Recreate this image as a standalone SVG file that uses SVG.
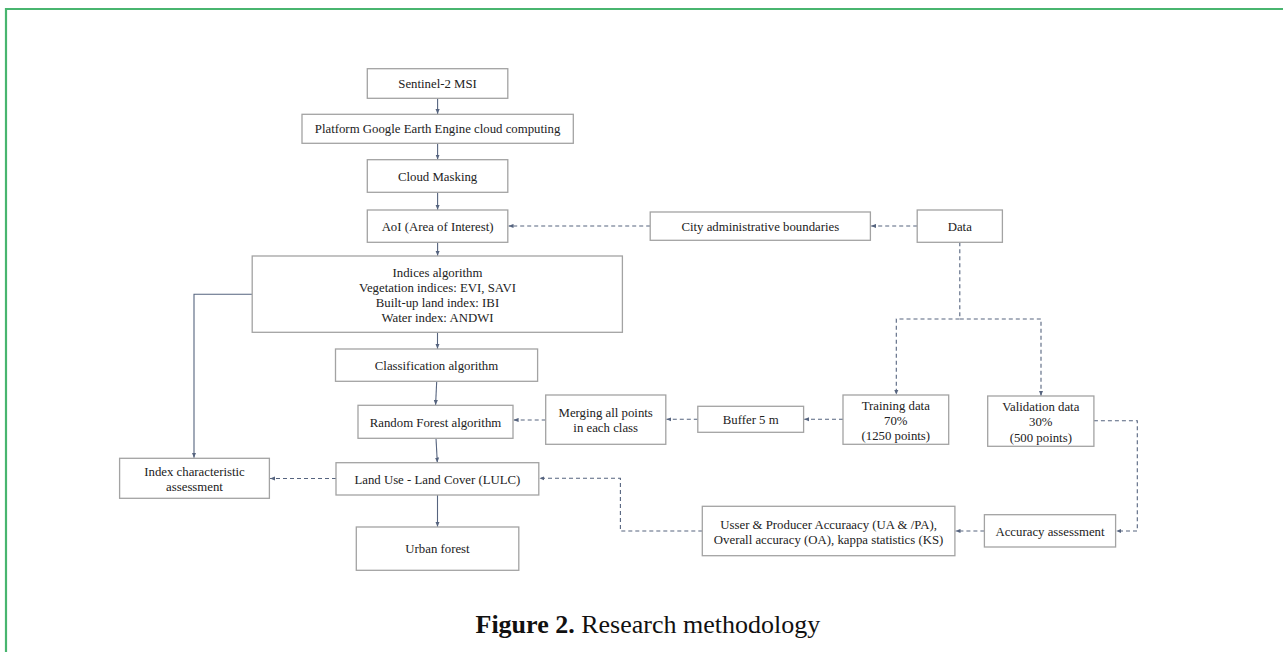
<svg xmlns="http://www.w3.org/2000/svg" width="1283" height="652" viewBox="0 0 1283 652">
<defs>
<style>
.box{fill:#fff;stroke:#a3a3a3;stroke-width:1.3}
.t{font-family:"Liberation Serif","Times New Roman",serif;font-size:12.8px;fill:#222;text-anchor:middle}
.c{fill:none;stroke:#56647f;stroke-width:1.1}
.d{stroke-dasharray:4 3}
.cap{font-family:"Liberation Serif","Times New Roman",serif;font-size:26px;fill:#111}
</style>
<marker id="ah" viewBox="0 0 6 6" refX="6" refY="3" markerWidth="5" markerHeight="5" orient="auto" markerUnits="userSpaceOnUse">
<path d="M0,0.5 L6,3 L0,5.5 Z" fill="#56647f"/>
</marker>
</defs>
<rect width="1283" height="652" fill="#fff"/>
<path d="M6,652 V9 H1283" fill="none" stroke="#48b56f" stroke-width="2.2"/>

<g id="connectors">
<path class="c" d="M437.6,98.3 V114" marker-end="url(#ah)"/>
<path class="c" d="M437.6,143.3 V159.5" marker-end="url(#ah)"/>
<path class="c" d="M437.6,192.3 V209.8" marker-end="url(#ah)"/>
<path class="c" d="M437.6,242.3 V255.8" marker-end="url(#ah)"/>
<path class="c" d="M437.5,332.3 V348.8" marker-end="url(#ah)"/>
<path class="c" d="M436.7,381.3 L435.6,405" marker-end="url(#ah)"/>
<path class="c" d="M436,438.3 L437.3,462.5" marker-end="url(#ah)"/>
<path class="c" d="M437.5,495 V526.8" marker-end="url(#ah)"/>
<path class="c" d="M252.2,294.3 H194 V457.8" marker-end="url(#ah)"/>
<path class="c d" d="M650.2,226 H508.5" marker-end="url(#ah)"/>
<path class="c d" d="M917.2,226 H871" marker-end="url(#ah)"/>
<path class="c d" d="M959.8,242.3 V319 H896.3 V394.8" marker-end="url(#ah)"/>
<path class="c d" d="M959.8,319 H1041 V395.8" marker-end="url(#ah)"/>
<path class="c d" d="M843,419.3 H804.2" marker-end="url(#ah)"/>
<path class="c d" d="M697.8,419.3 H666.4" marker-end="url(#ah)"/>
<path class="c d" d="M545.7,420 H513.6" marker-end="url(#ah)"/>
<path class="c d" d="M336,478.5 H270" marker-end="url(#ah)"/>
<path class="c d" d="M1093.9,420.7 H1137.3 V531 H1116.2" marker-end="url(#ah)"/>
<path class="c d" d="M984.4,531 H955.5" marker-end="url(#ah)"/>
<path class="c d" d="M702.3,531 H620.4 V478.3 H539.4" marker-end="url(#ah)"/>
</g>

<g id="sentinel"><rect class="box" x="367.3" y="68.7" width="140.5" height="29.6"/><text class="t" x="437.6" y="88">Sentinel-2 MSI</text></g>
<g id="gee"><rect class="box" x="302" y="114.3" width="271.3" height="29"/><text class="t" x="437.6" y="133.3">Platform Google Earth Engine cloud computing</text></g>
<g id="cloud"><rect class="box" x="367.3" y="159.7" width="140.5" height="32.6"/><text class="t" x="437.6" y="180.5">Cloud Masking</text></g>
<g id="aoi"><rect class="box" x="367.3" y="210" width="140.5" height="32.3"/><text class="t" x="437.6" y="230.7">AoI (Area of Interest)</text></g>
<g id="indices"><rect class="box" x="252.2" y="256" width="370.2" height="76.3"/>
<text class="t" x="437.5" y="276.5">Indices algorithm</text>
<text class="t" x="437.5" y="291.7">Vegetation indices: EVI, SAVI</text>
<text class="t" x="437.5" y="306.9">Built-up land index: IBI</text>
<text class="t" x="437.5" y="322.1">Water index: ANDWI</text></g>
<g id="classification"><rect class="box" x="335.5" y="349" width="202.1" height="32.3"/><text class="t" x="436.5" y="370">Classification algorithm</text></g>
<g id="rf"><rect class="box" x="358" y="405.3" width="155" height="33"/><text class="t" x="435.5" y="426.5">Random Forest algorithm</text></g>
<g id="lulc"><rect class="box" x="336" y="462.7" width="202.8" height="32.3"/><text class="t" x="437.4" y="483.5">Land Use - Land Cover (LULC)</text></g>
<g id="urban"><rect class="box" x="356.3" y="527" width="162.5" height="43.3"/><text class="t" x="437.5" y="553.3">Urban forest</text></g>
<g id="indexchar"><rect class="box" x="119.6" y="458.3" width="149.8" height="40"/>
<text class="t" x="194.5" y="476.2">Index characteristic</text>
<text class="t" x="194.5" y="491.2">assessment</text></g>
<g id="merging"><rect class="box" x="545.7" y="395" width="120.1" height="49.3"/>
<text class="t" x="605.7" y="417.2">Merging all points</text>
<text class="t" x="605.7" y="432.2">in each class</text></g>
<g id="buffer"><rect class="box" x="697.8" y="406.3" width="105.8" height="26"/><text class="t" x="750.7" y="423.7">Buffer 5 m</text></g>
<g id="training"><rect class="box" x="843" y="395" width="105.7" height="49.3"/>
<text class="t" x="895.8" y="409.5">Training data</text>
<text class="t" x="895.8" y="424.5">70%</text>
<text class="t" x="895.8" y="440.2">(1250 points)</text></g>
<g id="validation"><rect class="box" x="987.7" y="396" width="106.2" height="50.3"/>
<text class="t" x="1040.8" y="411.2">Validation data</text>
<text class="t" x="1040.8" y="426.2">30%</text>
<text class="t" x="1040.8" y="441.8">(500 points)</text></g>
<g id="cityadmin"><rect class="box" x="650.2" y="212" width="220.2" height="28.3"/><text class="t" x="760.3" y="230.7">City administrative boundaries</text></g>
<g id="data"><rect class="box" x="917.2" y="210" width="85.2" height="32.3"/><text class="t" x="959.8" y="230.7">Data</text></g>
<g id="accuracy"><rect class="box" x="984.4" y="514.7" width="131.2" height="32.3"/><text class="t" x="1050" y="535.5">Accuracy assessment</text></g>
<g id="usser"><rect class="box" x="702.3" y="506.3" width="252.6" height="49.4"/>
<text class="t" x="828.6" y="528.8">Usser &amp; Producer Accuraacy (UA &amp; /PA),</text>
<text class="t" x="828.6" y="543.8">Overall accuracy (OA), kappa statistics (KS)</text></g>

<text class="cap" x="475.5" y="633"><tspan font-weight="bold">Figure 2.</tspan> Research methodology</text>
</svg>
